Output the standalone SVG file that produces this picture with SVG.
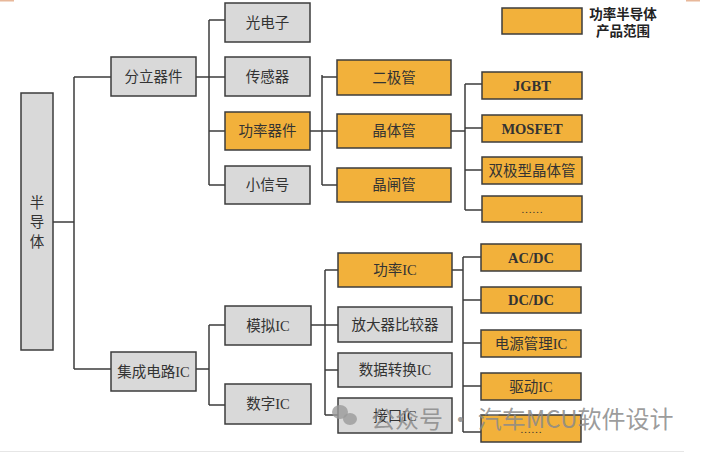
<svg xmlns="http://www.w3.org/2000/svg" width="703" height="453" viewBox="0 0 703 453">
<style>
.g{fill:#d9d9d9;stroke:#3c3c3c;stroke-width:1.5}
.o{fill:#f2b13b;stroke:#3c3c3c;stroke-width:1.5}
.t{font-family:"Liberation Serif","Noto Sans CJK SC",serif;font-size:14.5px;fill:#333;text-anchor:middle;dominant-baseline:central}
.b{font-weight:bold}
.c{fill:none;stroke:#3c3c3c;stroke-width:1.5}
.wm{font-family:"Noto Sans CJK SC","Noto Sans",sans-serif;font-size:24px;fill:#8a8a8a;fill-opacity:0.85}
</style>
<rect width="703" height="453" fill="#fff"/>
<rect x="0" y="0" width="14" height="1.5" fill="#e8b89a"/>
<rect x="686" y="0" width="14" height="1.5" fill="#e8b89a"/>
<line x1="0" y1="451.5" x2="684" y2="451.5" stroke="#e6e6e6" stroke-width="1"/>
<g id="connectors" class="c">
<path d="M53 222H74M74 77V369M74 77H111M74 369H111"/>
<path d="M196 77H209M209 20V185M209 20H225M209 77H225M209 131H225M209 185H225"/>
<path d="M310 131H322M322 75V185M322 77H337M322 131H337M322 185H337"/>
<path d="M451 131H465M465 84V210M465 84H482M465 128H482M465 170H482M465 210H482"/>
<path d="M196 369H209M209 325V405M209 325H225M209 405H225"/>
<path d="M311 325H325M325 270V415M325 270H338M325 325H338M325 370H338M325 415H338"/>
<path d="M452 270H463M463 257V432M463 257H481M463 300H481M463 343H481M463 386H481M463 432H481"/>
</g>
<g id="n-bandaoti"><rect class="g" x="21" y="93" width="32" height="257"/><text class="t" x="37" y="203">半</text><text class="t" x="37" y="222">导</text><text class="t" x="37" y="242">体</text></g>
<g id="n-fenli"><rect class="g" x="111" y="57" width="85" height="39"/><text class="t" x="153.5" y="77">分立器件</text></g>
<g id="n-jicheng"><rect class="g" x="111" y="352" width="85" height="39"/><text class="t" x="153.5" y="372">集成电路IC</text></g>
<g id="n-guangdianzi"><rect class="g" x="225" y="3" width="85" height="39"/><text class="t" x="267.5" y="23">光电子</text></g>
<g id="n-chuanganqi"><rect class="g" x="225" y="57" width="85" height="39"/><text class="t" x="267.5" y="77">传感器</text></g>
<g id="n-gonglvqijian"><rect class="o" x="225" y="112" width="85" height="38"/><text class="t" x="267.5" y="131">功率器件</text></g>
<g id="n-xiaoxinhao"><rect class="g" x="225" y="166" width="85" height="38"/><text class="t" x="267.5" y="185">小信号</text></g>
<g id="n-erjiguan"><rect class="o" x="337" y="60" width="114" height="35"/><text class="t" x="394" y="78">二极管</text></g>
<g id="n-jingtiguan"><rect class="o" x="337" y="114" width="114" height="34"/><text class="t" x="394" y="131">晶体管</text></g>
<g id="n-jingzhaguan"><rect class="o" x="337" y="168" width="114" height="34"/><text class="t" x="394" y="185">晶闸管</text></g>
<g id="n-igbt"><rect class="o" x="482" y="72" width="100" height="27"/><text class="t b" x="532" y="86">JGBT</text></g>
<g id="n-mosfet"><rect class="o" x="482" y="115" width="100" height="27"/><text class="t b" x="532" y="129">MOSFET</text></g>
<g id="n-shuangji"><rect class="o" x="482" y="157" width="100" height="27"/><text class="t" x="532" y="171">双极型晶体管</text></g>
<g id="n-more1"><rect class="o" x="482" y="196" width="100" height="26"/><text class="t" x="532" y="209" style="font-size:11px">……</text></g>
<g id="n-moni"><rect class="g" x="225" y="306" width="86" height="39"/><text class="t" x="268" y="326">模拟IC</text></g>
<g id="n-shuzi"><rect class="g" x="225" y="384" width="86" height="40"/><text class="t" x="268" y="404">数字IC</text></g>
<g id="n-gonglvic"><rect class="o" x="338" y="253" width="114" height="34"/><text class="t" x="395" y="270">功率IC</text></g>
<g id="n-fangdaqi"><rect class="g" x="338" y="307" width="114" height="35"/><text class="t" x="395" y="325">放大器比较器</text></g>
<g id="n-shujuzhuanhuan"><rect class="g" x="338" y="353" width="114" height="34"/><text class="t" x="395" y="370">数据转换IC</text></g>
<g id="n-jiekou"><rect class="g" x="338" y="398" width="114" height="35"/><text class="t" x="395" y="416">接口IC</text></g>
<g id="n-acdc"><rect class="o" x="481" y="244" width="100" height="27"/><text class="t b" x="531" y="258">AC/DC</text></g>
<g id="n-dcdc"><rect class="o" x="481" y="287" width="100" height="26"/><text class="t b" x="531" y="300">DC/DC</text></g>
<g id="n-dianyuan"><rect class="o" x="481" y="330" width="100" height="27"/><text class="t" x="531" y="344">电源管理IC</text></g>
<g id="n-qudong"><rect class="o" x="481" y="373" width="100" height="27"/><text class="t" x="531" y="387">驱动IC</text></g>
<g id="n-more2"><rect class="o" x="481" y="415" width="100" height="27"/><text class="t" x="531" y="429" style="font-size:11px">……</text></g>
<g id="legend"><rect class="o" x="502" y="8" width="80" height="26"/>
<text class="t b" x="623" y="14" style="font-size:13.5px;fill:#222">功率半导体</text>
<text class="t b" x="623" y="31" style="font-size:13.5px;fill:#222">产品范围</text></g>
<g id="watermark" fill="#9a9a9a" fill-opacity="0.8">
<ellipse cx="340" cy="412" rx="8" ry="7"/>
<ellipse cx="350" cy="419" rx="7" ry="6"/>
<text class="wm" x="371" y="428">公众号 · 汽车MCU软件设计</text>
</g>
</svg>
